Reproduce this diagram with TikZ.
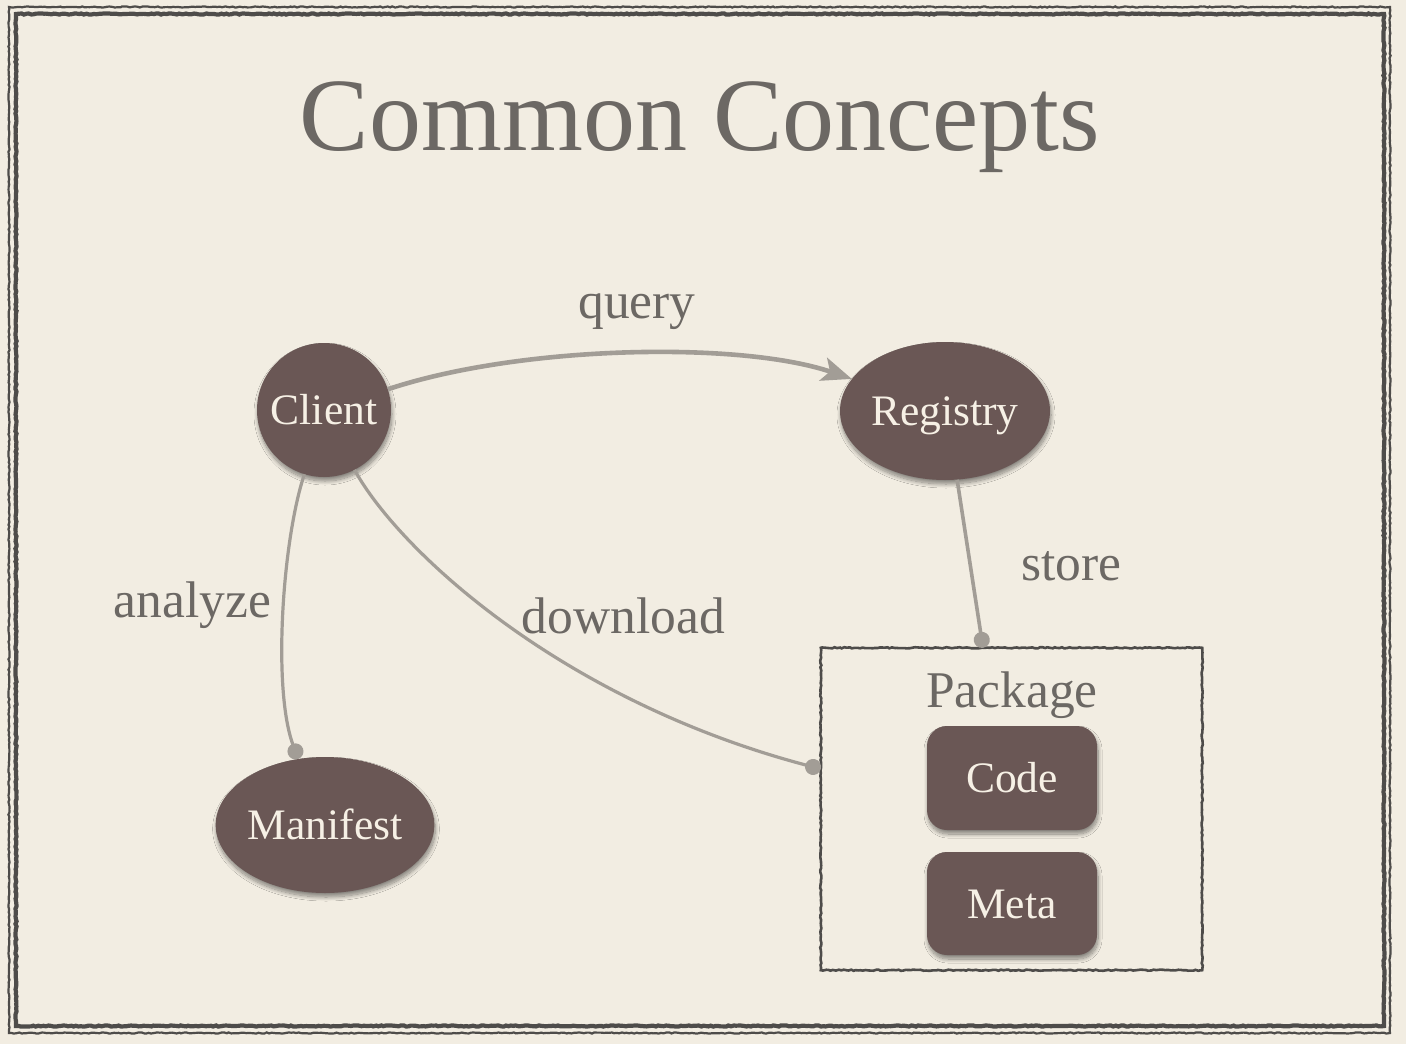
\documentclass[tikz,border=0pt]{standalone}
\usepackage{fontspec}
\setmainfont{Liberation Serif}
\usetikzlibrary{shapes.geometric,arrows.meta,shadows.blur,decorations.pathmorphing}

\definecolor{paper}{RGB}{242,237,226}
\definecolor{frameink}{RGB}{78,76,74}
\definecolor{nodefill}{RGB}{106,87,85}
\definecolor{nodetext}{RGB}{246,240,229}
\definecolor{labelink}{RGB}{108,104,100}
\definecolor{wire}{RGB}{162,157,150}

\tikzset{
  rough/.style={decorate,decoration={random steps,segment length=2.5pt,amplitude=0.6pt}},
  concept/.style={fill=nodefill,text=nodetext,inner sep=0pt,
    font=\fontsize{43.5}{48}\selectfont,text height=29.6pt,text depth=0pt,
    blur shadow={shadow xshift=1pt,shadow yshift=-4pt,shadow blur radius=4pt,
      shadow blur steps=12,shadow opacity=45}},
  edgelabel/.style={text=labelink,anchor=base,inner sep=0pt,font=\fontsize{51.5}{56}\selectfont},
  wireline/.style={draw=wire,line width=3.2pt},
  dotend/.style={-{Circle[length=16pt,fill=wire]}},
}

\begin{document}
\begin{tikzpicture}[x=1pt,y=-1pt]
  % paper and double frame
  \fill[paper] (0,0) rectangle (1406,1044);
  \useasboundingbox (0,0) rectangle (1406,1044);
  \draw[frameink,line width=2.2pt,rough] (9,7) rectangle (1390,1033);
  \draw[frameink,line width=4.2pt,rough] (16,14) rectangle (1384,1026);

  % title
  \node[text=labelink,anchor=base,inner sep=0pt,font=\fontsize{104}{116}\selectfont]
    (title) at (700,150) {Common Concepts};

  % main concepts
  \node[concept,circle,minimum size=134pt] (client) at (324,410) {Client};
  \node[concept,ellipse,minimum width=210pt,minimum height=138pt] (registry) at (945,411) {Registry};
  \node[concept,ellipse,minimum width=210pt,minimum height=136pt] (manifest) at (325,825) {Manifest};

  % package container
  \node[minimum width=381pt,minimum height=322pt,inner sep=0pt] (package) at (1011.5,809) {};
  \draw[frameink,line width=2.6pt,rough] (package.north west) rectangle (package.south east);
  \node[edgelabel] (packagelabel) at (1012,707) {Package};
  \node[concept,rectangle,rounded corners=20pt,minimum width=170pt,minimum height=104pt] (code) at (1012,778) {Code};
  \node[concept,rectangle,rounded corners=20pt,minimum width=170pt,minimum height=103pt] (meta) at (1012,903.5) {Meta};

  % connectors
  \draw[wireline,line width=4.6pt,-{Stealth[length=30pt,width=24pt,inset=7pt]}]
    (client.18) .. controls +(132,-44) and +(-112,-38) .. (registry.161);
  \draw[wireline,dotend]
    (client.253) .. controls +(-22,66) and +(-26,-69) .. (manifest.112);
  \draw[wireline,dotend]
    (client.-63) .. controls +(44,80) and +(-261,-69) .. ([yshift=40pt]package.west);
  \draw[wireline,line width=3.6pt,dotend]
    (registry.-80) -- ([xshift=-28.5pt]package.north);

  % connector labels
  \node[edgelabel] (lquery) at (637,318) {query};
  \node[edgelabel] (lanalyze) at (192.5,617) {analyze};
  \node[edgelabel] (ldownload) at (623.5,633) {download};
  \node[edgelabel] (lstore) at (1071.5,580) {store};
\end{tikzpicture}
\end{document}
